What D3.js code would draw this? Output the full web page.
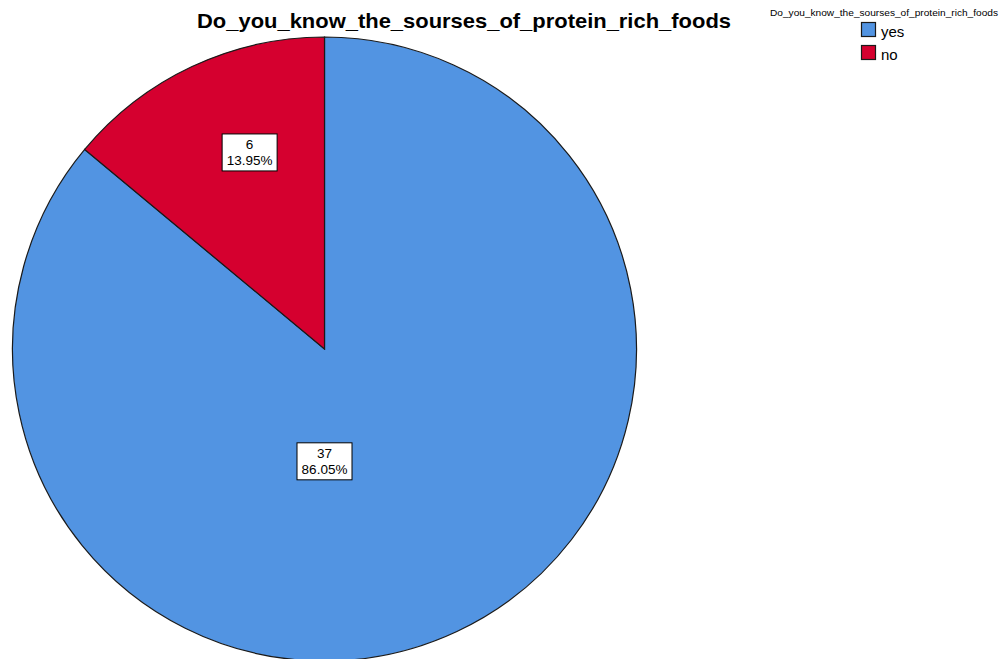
<!DOCTYPE html>
<html>
<head>
<meta charset="utf-8">
<script src="https://cdn.jsdelivr.net/npm/d3@7"></script>
<style>
  html, body { margin: 0; padding: 0; background: #fff; overflow: hidden; }
  svg { display: block; }
  text { font-family: "Liberation Sans", Arial, sans-serif; }
</style>
</head>
<body>
<svg id="chart" width="1003" height="659"></svg>
<script>
// Survey answers: counts per response
const categories = ["yes", "no"];
const counts = [37, 6];
const percentLabels = ["86.05%", "13.95%"];
const colors = ["#5294e2", "#d5002f"];
const chartTitle = "Do_you_know_the_sourses_of_protein_rich_foods";

const svg = d3.select("#chart");

const cx = 324.5, cy = 349, radius = 312;

// Title
svg.append("text")
  .attr("x", 464)
  .attr("y", 28)
  .attr("text-anchor", "middle")
  .attr("font-size", 21)
  .attr("font-weight", "bold")
  .attr("fill", "#000")
  .attr("textLength", 534)
  .attr("lengthAdjust", "spacingAndGlyphs")
  .text(chartTitle);

const data = categories.map((c, i) => ({ cat: c, value: counts[i], pct: percentLabels[i], color: colors[i] }));

const pie = d3.pie().sort(null).value(d => d.value);
const arc = d3.arc().innerRadius(0).outerRadius(radius);
const arcs = pie(data);

const g = svg.append("g").attr("transform", `translate(${cx},${cy})`);

g.selectAll("path.slice")
  .data(arcs)
  .enter().append("path")
  .attr("class", "slice")
  .attr("d", arc)
  .attr("fill", d => d.data.color)
  .attr("stroke", "#1a1a1a")
  .attr("stroke-width", 1.2);

// Value labels in boxes (placement as fractions of the radius)
const labelPos = { yes: [0.0, 0.36], no: [-0.24, -0.63] };

arcs.forEach(a => {
  const [fx, fy] = labelPos[a.data.cat];
  const lx = fx * radius, ly = fy * radius;
  const lg = g.append("g").attr("transform", `translate(${lx},${ly})`);
  const bw = 55, bh = 37;
  lg.append("rect")
    .attr("x", -bw / 2).attr("y", -bh / 2)
    .attr("width", bw).attr("height", bh)
    .attr("fill", "#fff")
    .attr("stroke", "#000")
    .attr("stroke-width", 1);
  lg.append("text")
    .attr("text-anchor", "middle")
    .attr("y", -3)
    .attr("font-size", 13.5)
    .attr("fill", "#000")
    .text(a.data.value);
  lg.append("text")
    .attr("text-anchor", "middle")
    .attr("y", 13)
    .attr("font-size", 13.5)
    .attr("fill", "#000")
    .text(a.data.pct);
});

// Legend
const legend = svg.append("g");
legend.append("text")
  .attr("x", 884)
  .attr("y", 16)
  .attr("text-anchor", "middle")
  .attr("font-size", 9)
  .attr("fill", "#000")
  .attr("textLength", 228)
  .attr("lengthAdjust", "spacingAndGlyphs")
  .text(chartTitle);

data.forEach((d, i) => {
  const y = 22 + i * 23;
  legend.append("rect")
    .attr("x", 861.5).attr("y", y + 0.5)
    .attr("width", 14).attr("height", 14)
    .attr("fill", d.color)
    .attr("stroke", "#1a1a1a")
    .attr("stroke-width", 1.2);
  legend.append("text")
    .attr("x", 881)
    .attr("y", y + 15)
    .attr("font-size", 15)
    .attr("fill", "#000")
    .text(d.cat);
});
</script>
</body>
</html>
